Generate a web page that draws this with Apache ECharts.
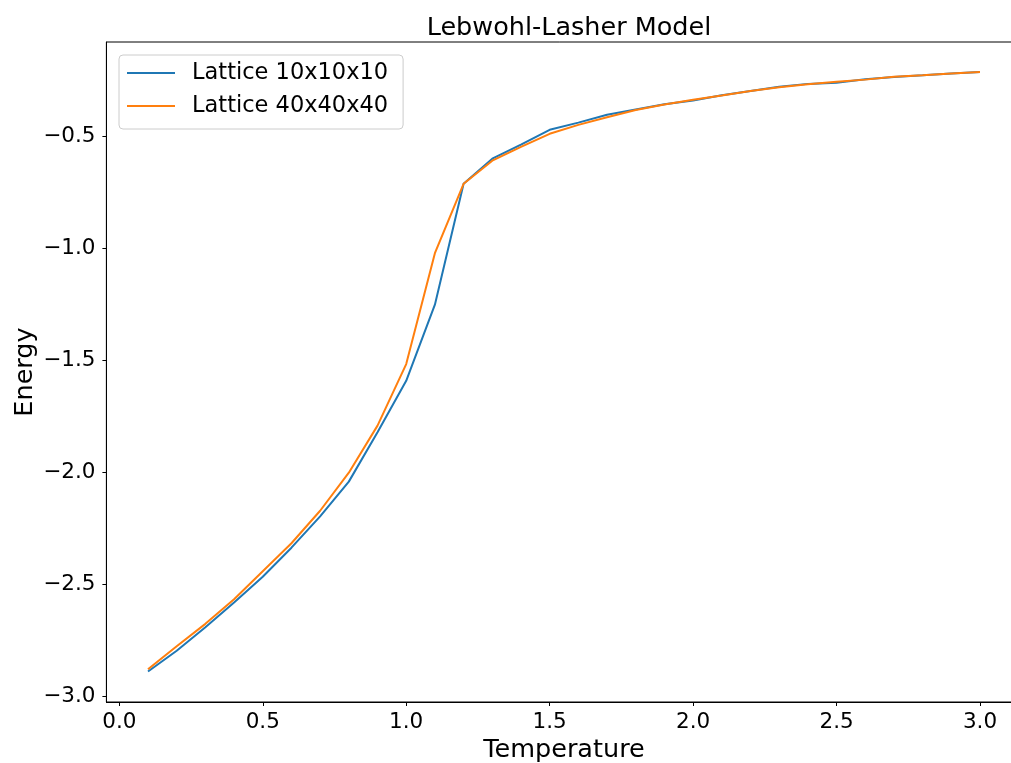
<!DOCTYPE html>
<html>
<head>
<meta charset="utf-8">
<script src="https://cdn.jsdelivr.net/npm/echarts@6/dist/echarts.min.js"></script>
<style>
  html, body { margin: 0; padding: 0; background: #fff; }
  #chart { width: 1011px; height: 763px; }
</style>
</head>
<body>
<div id="chart"></div>
<script>
var temperature = [0.1, 0.2, 0.3, 0.4, 0.5, 0.6, 0.7, 0.8, 0.9, 1.0,
                   1.1, 1.2, 1.3, 1.4, 1.5, 1.6, 1.7, 1.8, 1.9, 2.0,
                   2.1, 2.2, 2.3, 2.4, 2.5, 2.6, 2.7, 2.8, 2.9, 3.0];
var lattice10 = [-2.888, -2.795, -2.69, -2.58, -2.465, -2.335, -2.195, -2.04, -1.82, -1.59,
                 -1.25, -0.71, -0.598, -0.535, -0.469, -0.437, -0.402, -0.378, -0.355, -0.338,
                 -0.315, -0.296, -0.277, -0.264, -0.259, -0.243, -0.233, -0.226, -0.218, -0.211];
var lattice40 = [-2.878, -2.775, -2.675, -2.565, -2.44, -2.315, -2.17, -2.0, -1.79, -1.515,
                 -1.02, -0.71, -0.607, -0.545, -0.487, -0.447, -0.413, -0.381, -0.356, -0.335,
                 -0.316, -0.296, -0.279, -0.266, -0.255, -0.245, -0.232, -0.226, -0.218, -0.211];
var xTicks = [0.0, 0.5, 1.0, 1.5, 2.0, 2.5, 3.0];
var yTicks = [-3.0, -2.5, -2.0, -1.5, -1.0, -0.5];
var seriesNames = ['Lattice 10x10x10', 'Lattice 40x40x40'];

function pairs(xs, ys) {
    var out = [];
    for (var i = 0; i < xs.length; i++) out.push([xs[i], ys[i]]);
    return out;
}
function fmt(v) {
    return v.toFixed(1).replace('-', '\u2212');
}

var font = 'DejaVu Sans';
var chart = echarts.init(document.getElementById('chart'));
var option = {
    animation: false,
    color: ['#1f77b4', '#ff7f0e'],
    title: {
        text: 'Lebwohl-Lasher Model',
        left: 564,
        top: 10,
        textAlign: 'center',
        textStyle: { fontFamily: font, fontSize: 25.5, fontWeight: 'normal', color: '#000' }
    },
    legend: {
        orient: 'vertical',
        left: 119,
        top: 55,
        padding: [5, 15, 10, 8],
        itemGap: 7,
        itemWidth: 48,
        itemHeight: 2,
        icon: 'rect',
        backgroundColor: 'rgba(255,255,255,0.8)',
        borderColor: '#cccccc',
        borderWidth: 1,
        borderRadius: 4,
        data: seriesNames,
        textStyle: { fontFamily: font, fontSize: 22.5, color: '#000', lineHeight: 26, padding: [0, 0, 0, 12] }
    },
    grid: {
        left: 106.4,
        top: 42,
        width: 915.2,
        bottom: 61,
        outerBoundsMode: 'none',
        containLabel: false,
        show: true,
        borderColor: '#000',
        borderWidth: 1
    },
    xAxis: {
        type: 'value',
        min: -0.045,
        max: 3.145,
        name: 'Temperature',
        nameLocation: 'middle',
        nameGap: 35,
        nameMoveOverlap: false,
        nameTextStyle: { fontFamily: font, fontSize: 25.5, color: '#000' },
        splitLine: { show: false },
        axisLine: { show: true, onZero: false, lineStyle: { color: '#000', width: 1 } },
        axisTick: { show: true, length: 4, lineStyle: { color: '#000' }, customValues: xTicks },
        axisLabel: {
            fontFamily: font, fontSize: 21.5, color: '#000', margin: 9,
            customValues: xTicks, formatter: fmt
        }
    },
    yAxis: {
        type: 'value',
        min: -3.024,
        max: -0.077,
        name: 'Energy',
        nameLocation: 'middle',
        nameGap: 68,
        nameRotate: 90,
        nameMoveOverlap: false,
        nameTextStyle: { fontFamily: font, fontSize: 25.5, color: '#000' },
        splitLine: { show: false },
        axisLine: { show: true, onZero: false, lineStyle: { color: '#000', width: 1 } },
        axisTick: { show: true, length: 4, lineStyle: { color: '#000' }, customValues: yTicks },
        axisLabel: {
            fontFamily: font, fontSize: 21.5, color: '#000', margin: 11,
            customValues: yTicks, formatter: fmt
        }
    },
    series: [
        {
            name: seriesNames[0],
            type: 'line',
            symbol: 'none',
            lineStyle: { width: 2 },
            data: pairs(temperature, lattice10)
        },
        {
            name: seriesNames[1],
            type: 'line',
            symbol: 'none',
            lineStyle: { width: 2 },
            data: pairs(temperature, lattice40)
        }
    ]
};
chart.setOption(option);
</script>
</body>
</html>
